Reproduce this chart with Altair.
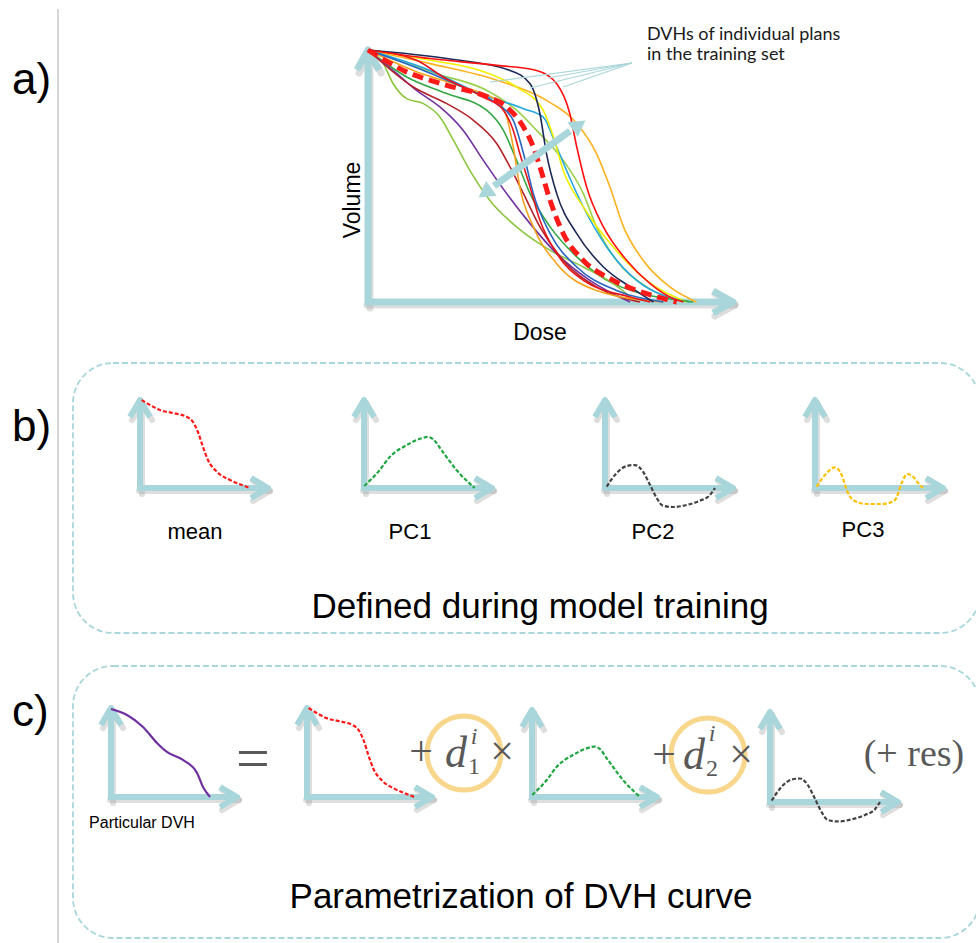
import altair as alt
import pandas as pd

CANVAS_W, CANVAS_H = 976, 943
AXIS_BLUE = "#a9d6da"
SHADOW_GREY = "#a0a0a0"
MATH_GREY = "#595959"
RING_GOLD = "#f8d68c"

# ---------------------------------------------------------------------------
# Panel a: DVHs of the training plans, dose in % of the axis, volume in %
# ---------------------------------------------------------------------------
red_top_dose = [0, 17.0, 35.3, 46.2, 51.7, 55.3, 57.2, 59.9, 64.5, 70.9, 77.3, 83.7, 86.4]
red_top_vol = [100, 96.6, 93.9, 91.9, 86.6, 74.7, 61.5, 45.6, 29.8, 16.5, 7.3, 1.3, 0]

navy_dose = [0, 21.6, 38.9, 44.4, 47.1, 48.9, 51.7, 57.2, 64.5, 71.8, 78.2]
navy_vol = [100, 96.6, 91.9, 86.6, 74.7, 58.9, 43.0, 27.1, 13.9, 6.0, 0]

yellow_dose = [0, 17.0, 30.7, 40.7, 48.0, 50.8, 53.5, 59.0, 67.2, 76.3, 87.3]
yellow_vol = [100, 95.9, 91.9, 85.3, 76.1, 65.5, 52.2, 37.7, 21.8, 8.6, 0]

orange_dose = [0, 17.0, 35.3, 48.9, 57.2, 62.6, 66.3, 70.0, 75.4, 82.7, 90.0]
orange_vol = [100, 94.6, 88.0, 80.0, 70.8, 58.9, 45.6, 29.8, 16.5, 6.0, 0]

skyblue_dose = [0, 17.0, 30.7, 42.6, 48.0, 51.7, 54.4, 59.0, 65.4, 73.6, 88.2]
skyblue_vol = [100, 91.9, 82.7, 76.7, 73.4, 61.5, 52.2, 37.7, 21.8, 8.6, 0]

lime_dose = [0, 4.2, 6.9, 10.6, 15.2, 19.7, 23.4, 27.9, 33.4, 40.7, 49.9, 59.0, 67.2, 73.6]
lime_vol = [100, 94.6, 86.6, 80.7, 78.7, 73.4, 64.2, 52.2, 40.3, 29.8, 20.5, 13.9, 7.3, 0]

purple_dose = [0, 7.9, 13.3, 19.7, 26.1, 31.6, 38.0, 44.4, 51.7, 60.8, 71.8]
purple_vol = [100, 90.6, 84.0, 77.4, 68.1, 56.2, 43.0, 31.1, 19.2, 8.6, 0]

darkred_dose = [0, 12.4, 21.6, 28.9, 35.3, 38.9, 42.6, 47.1, 53.5, 62.6, 74.5]
darkred_vol = [100, 85.3, 78.7, 72.1, 62.8, 53.6, 43.0, 29.8, 16.5, 6.0, 0]

green_dose = [0, 10.6, 21.6, 32.5, 37.1, 40.7, 44.4, 49.9, 57.2, 67.2, 89.1]
green_vol = [100, 89.3, 82.7, 76.1, 68.1, 56.2, 43.0, 29.8, 17.9, 7.3, 0]

amber_dose = [0, 12.4, 26.1, 35.3, 38.0, 39.8, 41.6, 45.3, 51.7, 62.6, 80.9]
amber_vol = [100, 91.9, 85.3, 80.0, 73.4, 61.5, 45.6, 29.8, 15.2, 4.6, 0]

red_mid_dose = [0, 13.3, 20.6, 31.6, 37.1, 39.8, 41.6, 44.4, 47.1, 51.7, 59.0, 71.8, 77.3]
red_mid_vol = [100, 95.9, 89.3, 81.3, 76.1, 68.1, 58.9, 45.6, 32.4, 19.2, 8.6, 2.0, 0]

blue_dose = [0, 15.2, 27.9, 35.3, 39.8, 42.6, 45.3, 49.9, 57.2, 68.1, 80.9]
blue_vol = [100, 91.9, 84.0, 78.7, 72.1, 58.9, 43.0, 27.1, 13.9, 4.6, 0]

olive_dose = [0, 18.8, 32.5, 40.7, 46.2, 53.5, 59.0, 62.6, 68.1, 76.3, 88.2]
olive_vol = [100, 90.6, 84.0, 76.1, 68.1, 56.2, 43.0, 29.8, 16.5, 6.0, 0]

# population mean DVH (thick dashed red)
mean_dvh_dose = [0, 9.7, 21.6, 31.6, 38.0, 42.6, 45.3, 47.1, 49.9, 53.5, 59.0, 67.2, 76.3, 84.6]
mean_dvh_vol = [100, 91.9, 86.0, 82.0, 77.4, 69.4, 61.5, 53.6, 40.3, 27.1, 16.5, 8.6, 3.3, 0]

TRAINING_DVHS = [
    ("orange", "#ffb21f", orange_dose, orange_vol),
    ("olive", "#9bd04a", olive_dose, olive_vol),
    ("skyblue", "#22a7e0", skyblue_dose, skyblue_vol),
    ("yellow", "#f2ef00", yellow_dose, yellow_vol),
    ("green", "#35a845", green_dose, green_vol),
    ("lime", "#8cc63f", lime_dose, lime_vol),
    ("purple", "#7030a0", purple_dose, purple_vol),
    ("darkred", "#b3232b", darkred_dose, darkred_vol),
    ("amber", "#f7a21b", amber_dose, amber_vol),
    ("blue", "#2866c2", blue_dose, blue_vol),
    ("red_mid", "#e8141c", red_mid_dose, red_mid_vol),
    ("navy", "#1c2857", navy_dose, navy_vol),
    ("red_top", "#ff1010", red_top_dose, red_top_vol),
]

# ---------------------------------------------------------------------------
# Basis shapes (fractions of the mini axes: width, height)
# ---------------------------------------------------------------------------
mean_u = [0.013, 0.078, 0.156, 0.258, 0.367, 0.414, 0.453, 0.492, 0.531, 0.602, 0.703, 0.797, 0.859]
mean_v = [1.0, 0.943, 0.886, 0.852, 0.807, 0.75, 0.636, 0.466, 0.318, 0.182, 0.091, 0.034, 0.0]

pc1_u = [0.002, 0.118, 0.198, 0.328, 0.45, 0.5, 0.54, 0.608, 0.728, 0.864]
pc1_v = [0.023, 0.195, 0.348, 0.483, 0.565, 0.58, 0.555, 0.425, 0.195, 0.0]

pc2_u = [0.013, 0.091, 0.17, 0.234, 0.297, 0.352, 0.404, 0.453, 0.531, 0.638, 0.742, 0.82, 0.859]
pc2_v = [0.015, 0.17, 0.25, 0.261, 0.185, 0.034, -0.114, -0.201, -0.216, -0.193, -0.144, -0.08, 0.0]

pc3_u = [0.013, 0.078, 0.156, 0.208, 0.248, 0.297, 0.404, 0.531, 0.625, 0.677, 0.721, 0.766, 0.805, 0.844]
pc3_v = [0.015, 0.148, 0.235, 0.148, -0.023, -0.136, -0.182, -0.182, -0.136, 0.057, 0.159, 0.128, 0.057, 0.0]

particular_u = [0.0, 0.127, 0.254, 0.365, 0.444, 0.571, 0.683, 0.730, 0.786]
particular_v = [0.989, 0.921, 0.787, 0.607, 0.506, 0.416, 0.270, 0.112, 0.0]

# ---------------------------------------------------------------------------
# Layout: axis frames (origin x, origin y, arrow length x, arrow length y)
# ---------------------------------------------------------------------------
FRAMES = {
    "a": (368, 302, 365, 252),
    "b_mean": (140, 488, 128, 88),
    "b_pc1": (364, 488, 128, 88),
    "b_pc2": (605, 488, 128, 88),
    "b_pc3": (815, 488, 128, 88),
    "c_part": (111, 797, 126, 89),
    "c_mean": (307, 797, 125, 89),
    "c_pc1": (532, 797, 125, 87),
    "c_pc2": (770, 802, 128, 90),
}

BOXES = [  # dashed rounded panels b and c
    {"x": 73, "x2": 980, "y": 363, "y2": 633},
    {"x": 73, "x2": 980, "y": 666, "y2": 938},
]

X = alt.X("x:Q", scale=alt.Scale(domain=[0, CANVAS_W], nice=False, zero=False), axis=None)
Y = alt.Y("y:Q", scale=alt.Scale(domain=[0, CANVAS_H], nice=False, zero=False, reverse=True), axis=None)


def to_frame(name, u, v):
    x0, y0, w, h = FRAMES[name]
    return x0 + u * w, y0 - v * h


def curve_rows(key, frame, us, vs, colour):
    rows = []
    for i, (u, v) in enumerate(zip(us, vs)):
        x, y = to_frame(frame, u, v)
        rows.append({"key": key, "ord": i, "x": x, "y": y, "col": colour})
    return rows


# --- axes with open arrow heads -------------------------------------------
axis_rows = []
for name, (x0, y0, w, h) in FRAMES.items():
    big = name == "a"
    hw, hl = (11, 20) if big else (10, 17)
    segs = [
        [(x0, y0 + 3), (x0, y0 - h)],
        [(x0 - 3, y0), (x0 + w, y0)],
        [(x0 - hw, y0 - h + hl), (x0, y0 - h), (x0 + hw, y0 - h + hl)],
        [(x0 + w - hl, y0 - hw), (x0 + w, y0), (x0 + w - hl, y0 + hw)],
    ]
    for s, pts in enumerate(segs):
        for i, (x, y) in enumerate(pts):
            axis_rows.append({"key": f"{name}-{s}", "ord": i, "x": x, "y": y,
                              "sw": 7 if big else 6})
axes_df = pd.DataFrame(axis_rows)
shadow_df = axes_df.assign(x=axes_df.x + 2, y=axes_df.y + 3)

axes_shadow = alt.Chart(shadow_df).mark_line(
    color=SHADOW_GREY, opacity=0.35, strokeJoin="round", strokeCap="round"
).encode(x=X, y=Y, detail="key:N", order="ord:Q",
         strokeWidth=alt.StrokeWidth("sw:Q", scale=None))
axes = alt.Chart(axes_df).mark_line(
    color=AXIS_BLUE, strokeJoin="round", strokeCap="butt"
).encode(x=X, y=Y, detail="key:N", order="ord:Q",
         strokeWidth=alt.StrokeWidth("sw:Q", scale=None))

# --- panel a curves ---------------------------------------------------------
dvh_rows = []
for key, colour, dose, vol in TRAINING_DVHS:
    for i, (d, v) in enumerate(zip(dose, vol)):
        x, y = to_frame("a", d / 100, v / 100)
        dvh_rows.append({"key": key, "ord": i, "x": x, "y": y, "col": colour})
dvh_lines = alt.Chart(pd.DataFrame(dvh_rows)).mark_line(
    interpolate="monotone", strokeWidth=1.6
).encode(x=X, y=Y, detail="key:N", order="ord:Q",
         color=alt.Color("col:N", scale=None))

mean_rows = []
for i, (d, v) in enumerate(zip(mean_dvh_dose, mean_dvh_vol)):
    x, y = to_frame("a", d / 100, v / 100)
    mean_rows.append({"ord": i, "x": x, "y": y})
mean_line = alt.Chart(pd.DataFrame(mean_rows)).mark_line(
    interpolate="monotone", strokeWidth=5, color="#ff1a1a", strokeDash=[11, 6]
).encode(x=X, y=Y, order="ord:Q")

# call-out leader lines and variation double arrow
leader_targets_x = [490, 530, 548, 563]
leader_targets_y = [82, 88, 78, 87]
leader_rows = []
for k, (tx, ty) in enumerate(zip(leader_targets_x, leader_targets_y)):
    leader_rows += [{"key": k, "ord": 0, "x": 632, "y": 63},
                    {"key": k, "ord": 1, "x": tx, "y": ty}]
leaders = alt.Chart(pd.DataFrame(leader_rows)).mark_line(
    color=AXIS_BLUE, strokeWidth=1.2
).encode(x=X, y=Y, detail="key:N", order="ord:Q")

spread_df = pd.DataFrame({"x": [494, 570], "y": [186, 131], "ord": [0, 1]})
spread_shaft = alt.Chart(spread_df).mark_line(color=AXIS_BLUE, strokeWidth=7).encode(
    x=X, y=Y, order="ord:Q")
spread_heads = alt.Chart(pd.DataFrame({
    "x": [579, 485], "y": [125, 193], "ang": [54.4, 234.4]
})).mark_point(shape="triangle-up", filled=True, size=330, color=AXIS_BLUE, opacity=1).encode(
    x=X, y=Y, angle=alt.Angle("ang:Q", scale=None))

# --- basis shapes and the decomposition ----------------------------------
dashed_rows = []
dashed_rows += curve_rows("b_mean", "b_mean", mean_u, mean_v, "#ff1a1a")
dashed_rows += curve_rows("b_pc1", "b_pc1", pc1_u, pc1_v, "#1fa640")
dashed_rows += curve_rows("b_pc2", "b_pc2", pc2_u, pc2_v, "#444444")
dashed_rows += curve_rows("b_pc3", "b_pc3", pc3_u, pc3_v, "#ffc000")
dashed_rows += curve_rows("c_mean", "c_mean", mean_u, mean_v, "#ff1a1a")
dashed_rows += curve_rows("c_pc1", "c_pc1", pc1_u, pc1_v, "#1fa640")
dashed_rows += curve_rows("c_pc2", "c_pc2", pc2_u, pc2_v, "#444444")
basis_lines = alt.Chart(pd.DataFrame(dashed_rows)).mark_line(
    interpolate="monotone", strokeWidth=2.2, strokeDash=[4, 2]
).encode(x=X, y=Y, detail="key:N", order="ord:Q",
         color=alt.Color("col:N", scale=None))

particular_line = alt.Chart(pd.DataFrame(
    curve_rows("c_part", "c_part", particular_u, particular_v, "#7030a0")
)).mark_line(interpolate="monotone", strokeWidth=2.2, color="#7030a0").encode(
    x=X, y=Y, order="ord:Q")

rings = alt.Chart(pd.DataFrame({"x": [464, 708], "y": [753, 755]})).mark_point(
    shape="circle", size=5476, filled=False, strokeWidth=5, color=RING_GOLD, opacity=1
).encode(x=X, y=Y)

boxes = alt.Chart(pd.DataFrame(BOXES)).mark_rect(
    filled=False, stroke=AXIS_BLUE, strokeWidth=1.8, strokeDash=[6, 3], cornerRadius=40
).encode(x=X, x2="x2:Q", y=Y, y2="y2:Q")

divider = alt.Chart(pd.DataFrame({"x": [58, 58], "y": [9, 943], "ord": [0, 1]})).mark_line(
    color="#c8c8c8", strokeWidth=1.5
).encode(x=X, y=Y, order="ord:Q")


# --- texts ---------------------------------------------------------------
def texts(rows, **kw):
    return alt.Chart(pd.DataFrame(rows)).mark_text(baseline="middle", **kw).encode(
        x=X, y=Y, text="t:N")


SANS = "Liberation Sans"
SERIF = "Liberation Serif"

panel_tags = texts([{"t": "a)", "x": 12, "y": 81}, {"t": "b)", "x": 12, "y": 428},
                    {"t": "c)", "x": 12, "y": 713}],
                   font=SANS, fontSize=44, align="left", color="black")
dose_label = texts([{"t": "Dose", "x": 540, "y": 333}], font=SANS, fontSize=23, color="black")
volume_label = texts([{"t": "Volume", "x": 353, "y": 200}], font=SANS, fontSize=23,
                     angle=270, color="black")
callout = texts([{"t": "DVHs of individual plans", "x": 647, "y": 35},
                 {"t": "in the training set", "x": 647, "y": 55}],
                font="Lato", fontSize=18, align="left", color="#1a1a1a")
basis_names = texts([{"t": "mean", "x": 195, "y": 532}, {"t": "PC1", "x": 410, "y": 532},
                     {"t": "PC2", "x": 653, "y": 532}, {"t": "PC3", "x": 863, "y": 530}],
                    font=SANS, fontSize=22, color="black")
captions = texts([{"t": "Defined during model training", "x": 540, "y": 607},
                  {"t": "Parametrization of DVH curve", "x": 521, "y": 897}],
                 font=SANS, fontSize=35, color="black")
particular_label = texts([{"t": "Particular DVH", "x": 142, "y": 823}],
                         font=SANS, fontSize=16, color="black")

equals = texts([{"t": "=", "x": 253, "y": 760}], font=SERIF, fontSize=60, color=MATH_GREY)
operators = texts([{"t": "+", "x": 421, "y": 752}, {"t": "×", "x": 502, "y": 752},
                   {"t": "+", "x": 664, "y": 755}, {"t": "×", "x": 741, "y": 755}],
                  font=SERIF, fontSize=42, color=MATH_GREY)
coeff_d = texts([{"t": "d", "x": 456, "y": 754}, {"t": "d", "x": 694, "y": 756}],
                font=SERIF, fontSize=44, fontStyle="italic", color=MATH_GREY)
coeff_sup = texts([{"t": "i", "x": 474, "y": 737}, {"t": "i", "x": 712, "y": 734}],
                  font=SERIF, fontSize=24, fontStyle="italic", color=MATH_GREY)
coeff_sub = texts([{"t": "1", "x": 474, "y": 767}, {"t": "2", "x": 712, "y": 769}],
                  font=SERIF, fontSize=24, color=MATH_GREY)
residual = texts([{"t": "(+ res)", "x": 914, "y": 755}], font=SERIF, fontSize=38,
                 color=MATH_GREY)

chart = alt.layer(
    boxes, divider, axes_shadow, axes,
    dvh_lines, mean_line, leaders, spread_shaft, spread_heads,
    basis_lines, particular_line, rings,
    panel_tags, dose_label, volume_label, callout, basis_names, captions,
    particular_label, equals, operators, coeff_d, coeff_sup, coeff_sub, residual,
).properties(
    width=CANVAS_W, height=CANVAS_H, padding=0,
    autosize=alt.AutoSizeParams(type="none"), background="white",
).configure_view(strokeWidth=0)

chart.save("out.html", embed_options={"renderer": "svg", "actions": False})
